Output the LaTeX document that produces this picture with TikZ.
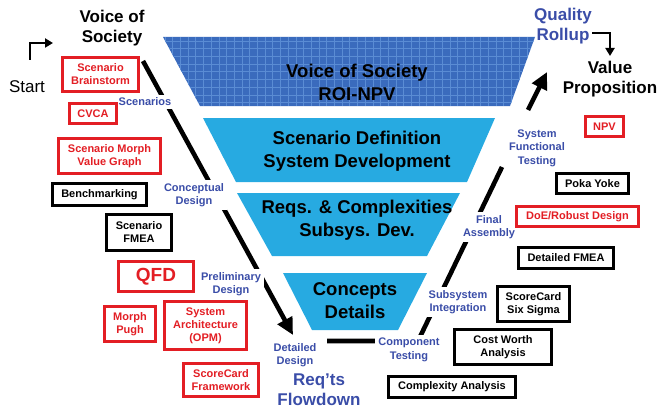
\documentclass[tikz,border=0pt]{standalone}
\usepackage{fontspec}
\setmainfont{Liberation Sans}
\usetikzlibrary{arrows.meta,shadows}
\definecolor{boxred}{HTML}{E31E24}
\definecolor{labelblue}{HTML}{3A4DA8}
\definecolor{stageblue}{HTML}{27AAE1}
\definecolor{voiceblue}{HTML}{3A6BBD}
\definecolor{gridblue}{HTML}{5A8CD4}
\begin{document}
\begin{tikzpicture}[x=1pt,y=-1pt,
    tool/.style={line width=2.8pt,fill=white,align=center,inner sep=0pt,
      font=\fontsize{11}{13}\selectfont\bfseries,
      drop shadow={shadow xshift=1.2pt,shadow yshift=-1.2pt,fill=black!40}},
    redtool/.style={tool,draw=boxred,text=boxred},
    blacktool/.style={tool,draw=black,text=black},
    phase/.style={fill=white,text=labelblue,align=center,inner sep=3pt,
      font=\fontsize{11}{13.5}\selectfont\bfseries},
    stage/.style={align=center,font=\fontsize{18.5}{23}\selectfont\bfseries},
    title/.style={align=center,font=\fontsize{17}{20}\selectfont\bfseries},
    flow/.style={line width=4.6pt},
    flowtip/.style={flow,-{Triangle[length=17pt,width=16pt]}},
    cornerarrow/.style={line width=2.4pt,-{Triangle[length=8pt,width=9pt]}}]
    \useasboundingbox (0,0) rectangle (660,409);

    \fill[voiceblue] (163,37) -- (535,37) -- (510,106) -- (200,106) -- cycle;
    \begin{scope}
        \clip (163,37) -- (535,37) -- (510,106) -- (200,106) -- cycle;
        \foreach \gx in {165,172.7,...,535} \draw[gridblue,line width=0.7pt] (\gx,37) -- (\gx,106);
        \foreach \gy in {41,48.7,...,106} \draw[gridblue,line width=0.7pt] (163,\gy) -- (535,\gy);
    \end{scope}
    \fill[stageblue] (203,118) -- (495,118) -- (467,182) -- (236,182) -- cycle;
    \fill[stageblue] (237,193) -- (460,193) -- (427,256) -- (272,256) -- cycle;
    \fill[stageblue] (283,273) -- (427,273) -- (398,330) -- (312,330) -- cycle;

    \node[stage] (society) at (357,82) {Voice of Society\\ROI-NPV};
    \node[stage] (scenario) at (357,151) {Scenario Definition\\System Development};
    \node[stage] (reqs) at (357,220) {Reqs. \& Complexities\\Subsys. Dev.};
    \node[stage] (concepts) at (355,300.5) {Concepts\\Details};

    \coordinate (left-top) at (143,61);
    \coordinate (design-tip) at (293,335);
    \coordinate (bottom-start) at (327,341);
    \coordinate (bottom-turn) at (418,341);
    \coordinate (testing-gap) at (502,167);
    \coordinate (rollup-base) at (528,110);
    \coordinate (rollup-tip) at (547,72);
    \draw[flowtip] (left-top) -- (design-tip);
    \draw[flow] (bottom-start) -- (bottom-turn) -- (testing-gap);
    \draw[flowtip] (rollup-base) -- (rollup-tip);

    \node[phase] (scenarios) at (145,102) {Scenarios};
    \node[phase] (conceptual) at (194,195) {Conceptual\\Design};
    \node[phase] (preliminary) at (231,284) {Preliminary\\Design};
    \node[phase] (detailed) at (295,355) {Detailed\\Design};
    \node[phase] (component) at (409,350) {Component\\Testing};
    \node[phase] (subsystem) at (458,302) {Subsystem\\Integration};
    \node[phase] (final) at (489,227) {Final\\Assembly};
    \node[phase] (functional) at (537,148) {System\\Functional\\Testing};

    \node[title] (voice) at (112,28.5) {Voice of\\Society};
    \node[title,text=labelblue] (quality) at (563,26) {Quality\\Rollup};
    \node[title] (value) at (610,79.5) {Value\\Proposition};
    \node[title,text=labelblue] (flowdown) at (319,390) {Req’ts\\Flowdown};
    \node[font=\fontsize{17}{20}\selectfont] (start) at (27,87) {Start};

    \coordinate (start-up) at (30,60);
    \coordinate (start-go) at (53,43);
    \draw[cornerarrow] (start-up) |- (start-go);
    \coordinate (rollup-out) at (592,33);
    \coordinate (value-in) at (610,56);
    \draw[cornerarrow] (rollup-out) -| (value-in);

    \node[redtool,minimum width=76pt,minimum height=34pt] (brainstorm) at (100.5,74.5) {Scenario\\Brainstorm};
    \node[redtool,minimum width=47pt,minimum height=20pt] (cvca) at (93,113.5) {CVCA};
    \node[redtool,minimum width=102pt,minimum height=35pt] (valuegraph) at (109.5,156) {Scenario Morph\\Value Graph};
    \node[blacktool,minimum width=94pt,minimum height=22pt] (benchmarking) at (99.5,194.5) {Benchmarking};
    \node[blacktool,minimum width=65pt,minimum height=36pt] (scenariofmea) at (139,232.5) {Scenario\\FMEA};
    \node[redtool,minimum width=75pt,minimum height=30pt,font=\fontsize{19}{22}\selectfont\bfseries] (qfd) at (156,276.5) {QFD};
    \node[redtool,minimum width=51pt,minimum height=35pt] (pugh) at (130,324) {Morph\\Pugh};
    \node[redtool,minimum width=82pt,minimum height=48pt] (opm) at (205.5,325.5) {System\\Architecture\\(OPM)};
    \node[redtool,minimum width=75pt,minimum height=33pt] (framework) at (221,380) {ScoreCard\\Framework};

    \node[redtool,minimum width=38pt,minimum height=20pt] (npv) at (604.5,126.5) {NPV};
    \node[blacktool,minimum width=72pt,minimum height=20pt] (pokayoke) at (592.5,183.5) {Poka Yoke};
    \node[redtool,minimum width=122pt,minimum height=20pt] (robust) at (577.5,216.5) {DoE/Robust Design};
    \node[blacktool,minimum width=95pt,minimum height=21pt] (detailedfmea) at (566,258) {Detailed FMEA};
    \node[blacktool,minimum width=72pt,minimum height=35pt] (sixsigma) at (533.5,304) {ScoreCard\\Six Sigma};
    \node[blacktool,minimum width=97pt,minimum height=35pt] (costworth) at (503,347) {Cost Worth\\Analysis};
    \node[blacktool,minimum width=127pt,minimum height=21pt] (complexity) at (452,387) {Complexity Analysis};
\end{tikzpicture}
\end{document}
